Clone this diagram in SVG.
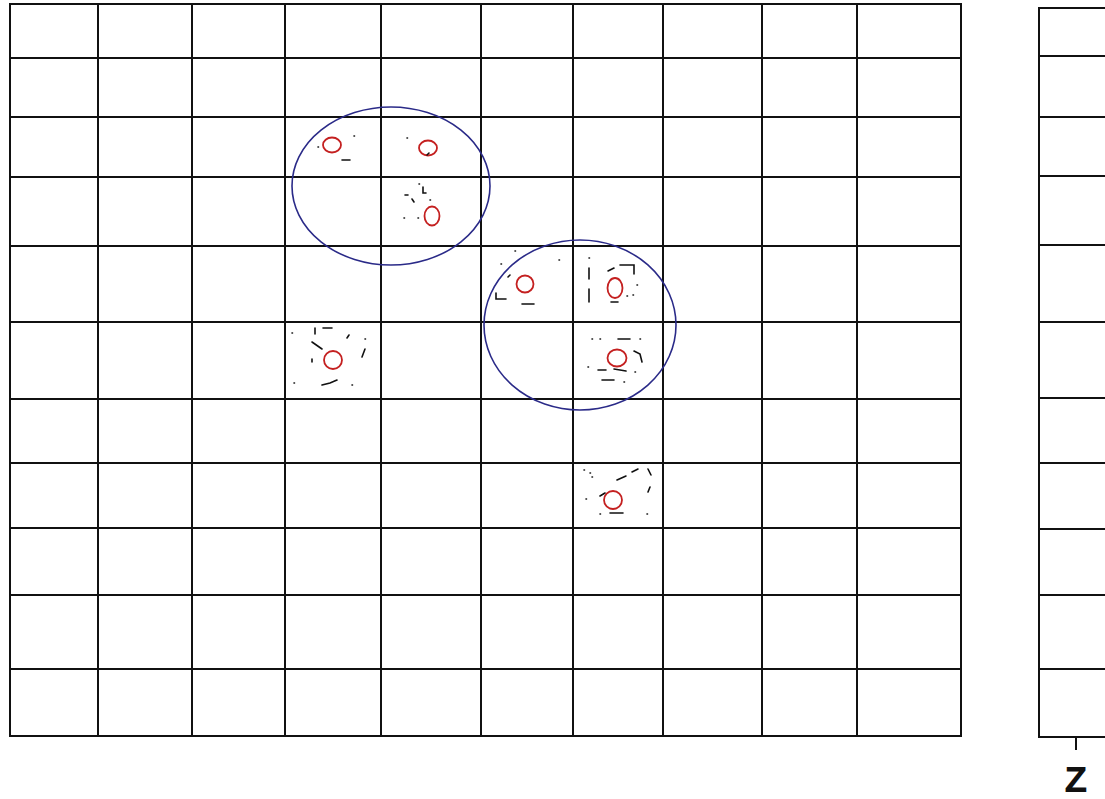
<svg xmlns="http://www.w3.org/2000/svg" width="1105" height="799" viewBox="0 0 1105 799">
<style>
.g{stroke:#111;stroke-width:2;fill:none}
.b{stroke:#2a2a88;stroke-width:1.6;fill:none}
.r{stroke:#c42020;stroke-width:1.8;fill:none}
.m{stroke:#111;stroke-width:1.6;fill:none;stroke-linecap:round}
.t{font-family:"Liberation Sans",Arial,sans-serif;font-size:34px;fill:#111}
</style>
<rect width="1105" height="799" fill="#fff"/>
<g id="grid-left" class="g">
<rect x="10" y="4" width="951" height="732"/>
<path d="M98 4V736M192 4V736M285 4V736M381 4V736M481 4V736M573 4V736M663 4V736M762 4V736M857 4V736"/>
<path d="M10 58H961M10 117H961M10 177H961M10 246H961M10 322H961M10 399H961M10 463H961M10 528H961M10 595H961M10 669H961"/>
</g>
<g id="grid-right" class="g">
<path d="M1110 8H1039V737H1110"/>
<path d="M1039 56H1110M1039 117H1110M1039 176H1110M1039 245H1110M1039 322H1110M1039 398H1110M1039 463H1110M1039 529H1110M1039 595H1110M1039 669H1110"/>
<path d="M1076 737V750"/>
<text class="t" x="1076" y="791" text-anchor="middle">Z</text>
</g>
<g id="clusters">
<ellipse class="b" cx="391" cy="186" rx="99" ry="79"/>
<ellipse class="b" cx="580" cy="325" rx="96" ry="85"/>
</g>
<g id="points">
<ellipse class="r" cx="332" cy="145" rx="9" ry="7.5"/>
<ellipse class="r" cx="428" cy="148" rx="9" ry="7.5"/>
<ellipse class="r" cx="432" cy="216" rx="7.5" ry="9.5"/>
<ellipse class="r" cx="525" cy="284" rx="8.5" ry="8.5"/>
<ellipse class="r" cx="615" cy="288" rx="7.5" ry="10"/>
<ellipse class="r" cx="617" cy="358" rx="9.5" ry="8.5"/>
<ellipse class="r" cx="333" cy="360" rx="9" ry="9"/>
<ellipse class="r" cx="613" cy="500" rx="9" ry="9"/>
</g>
<g id="marks" class="m">
<path d="M354 136h.5M318 147h.5M342 160h8M407 138h.5M427 155l2-2"/>
<path d="M419 184h.5M423 187v6h3M405 195h3M412 199l2 3M430 200h.5M404 218h.5M418 218h.5"/>
<path d="M515 251h.5M501 264h.5M559 260h.5M508 277l2-2M496 293v6h10M522 304h12"/>
<path d="M589 258h.5M589 268v11M589 289v13M608 271l6-3M620 265h14v9M637 285h.5M633 295h.5M627 296h.5M611 302h7"/>
<path d="M592 339h.5M600 339h.5M618 339h12M640 339h.5M634 351l6 3l2 8M588 367h.5M598 370h8M614 369l12 2M635 372h.5M602 380h12M624 382h.5"/>
<path d="M292 333h.5M315 328v6M323 328h9M312 342l10 7M347 338l2-3M365 339h.5M365 349l-3 8M312 359v3M294 383h.5M322 385l8-2l7-3M352 385h.5"/>
<path d="M584 470h.5M590 473h.5M592 477h.5M632 472l6-3M648 469l3 6M617 480l9-4M650 487l-2 5M586 499h.5M600 496l5-3M600 514h.5M610 513h13M647 514h.5"/>
</g>
</svg>
